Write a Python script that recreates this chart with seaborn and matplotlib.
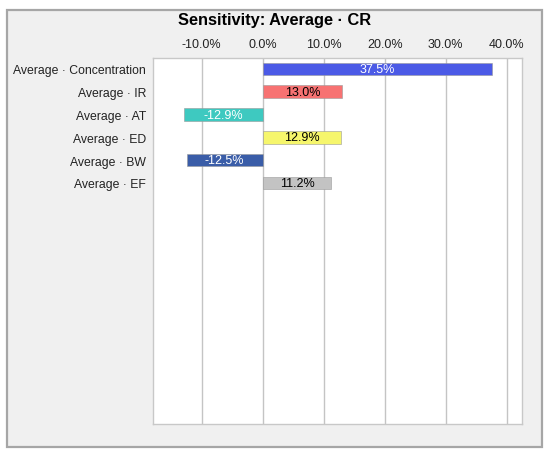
import numpy as np
import pandas as pd
import seaborn as sns
import matplotlib.pyplot as plt
from matplotlib.patches import Rectangle
from matplotlib.ticker import FuncFormatter

# data
inputs = ['Average · Concentration', 'Average · IR', 'Average · AT',
          'Average · ED', 'Average · BW', 'Average · EF']
sensitivity = [37.5, 13.0, -12.9, 12.9, -12.5, 11.2]
bar_colors = ['#4b5ae6', '#f77272', '#3ec9c0', '#f6f66c', '#3a5da8', '#c3c3c3']
text_colors = ['white', 'black', 'white', 'black', 'white', 'black']
xticks = [-10, 0, 10, 20, 30, 40]

df = pd.DataFrame({'input': inputs, 'value': sensitivity})

sns.set_theme(style='white')
plt.rcParams['font.family'] = ['Liberation Sans', 'DejaVu Sans']

fig = plt.figure(figsize=(5.5, 4.52), dpi=100, facecolor='white')
# grey panel behind the chart
fig.patches.append(Rectangle((7 / 550, 1 - 448 / 452), 535 / 550, 437 / 452,
                             transform=fig.transFigure, facecolor='#f0f0f0',
                             edgecolor='#a6a6a6', linewidth=1.6, zorder=-1))

ax = fig.add_axes([153 / 550, 1 - 425 / 452, 369 / 550, 366 / 452])
ax.set_facecolor('white')

sns.barplot(data=df, x='value', y='input', hue='input', palette=bar_colors,
            orient='h', width=0.55, saturation=1, legend=False, ax=ax,
            edgecolor='#9a9a9a', linewidth=0.4, zorder=3)

for i, (v, c) in enumerate(zip(sensitivity, text_colors)):
    ax.text(v / 2, i, f'{v:.1f}%', ha='center', va='center',
            color=c, fontsize=9, zorder=4)

ax.set_xlim(-18, 42.5)
ax.set_ylim(15.57, -0.48)
ax.set_xticks(xticks)
ax.xaxis.set_major_formatter(FuncFormatter(lambda x, _: f'{x:.1f}%'))
ax.xaxis.tick_top()
ax.tick_params(axis='x', length=0, pad=6, labelsize=9, colors='#222222')
ax.tick_params(axis='y', length=0, pad=5, labelsize=8.8, colors='#222222')
ax.grid(axis='x', color='#c4c4c4', linewidth=1.0, zorder=0)
ax.set_axisbelow(True)
ax.set_xlabel('')
ax.set_ylabel('')
for s in ax.spines.values():
    s.set_color('#c8c8c8')
    s.set_linewidth(1.0)

fig.text(0.5, 1 - 20 / 452, 'Sensitivity: Average · CR', ha='center',
         va='center', fontsize=11.8, fontweight='bold', color='black')

fig.savefig('out.png', dpi=100, facecolor='white')
